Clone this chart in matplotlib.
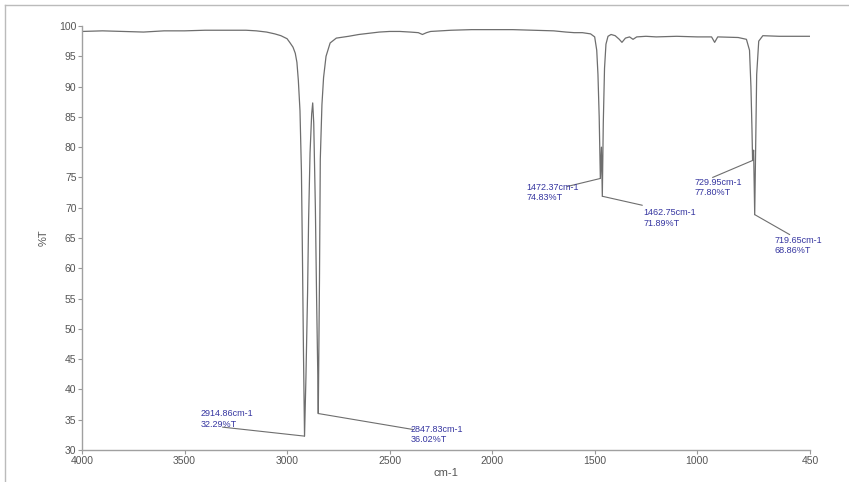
#!/usr/bin/env python
# FTIR transmittance spectrum with labelled peaks
import numpy as np
import matplotlib.pyplot as plt
from matplotlib.lines import Line2D

plt.rcParams['font.family'] = ['Liberation Sans', 'DejaVu Sans']

# spectrum (wavenumber cm-1, %T)
wavenumber = [4000, 3900, 3800, 3700, 3600, 3500, 3400, 3300, 3200, 3150,
              3100, 3060, 3030, 3000, 2985, 2971, 2960, 2952, 2945, 2937,
              2930, 2925, 2920, 2914.86, 2908, 2900, 2895, 2888, 2880, 2875,
              2870, 2862, 2856, 2850, 2847.83, 2842, 2838, 2830, 2822, 2810,
              2790, 2760, 2700, 2650, 2600, 2550, 2500, 2450, 2400, 2360,
              2340, 2320, 2300, 2200, 2100, 2000, 1900, 1800, 1700, 1640,
              1600, 1560, 1520, 1500, 1490, 1484, 1478, 1472.37, 1467, 1462.75,
              1458, 1452, 1445, 1435, 1420, 1400, 1380, 1367, 1350, 1330,
              1313, 1295, 1250, 1200, 1100, 1000, 930, 915, 900, 800,
              760, 745, 738, 733, 729.95, 725, 719.65, 715, 710, 700,
              680, 600, 500, 450]
transmittance = [99.1, 99.2, 99.1, 99.0, 99.2, 99.2, 99.3, 99.3, 99.3, 99.2,
                 99.0, 98.7, 98.4, 97.9, 97.2, 96.5, 95.5, 94.0, 91.0, 86.0,
                 76.0, 62.0, 46.0, 32.29, 42.0, 56.0, 68.0, 79.0, 85.5, 87.3,
                 84.0, 70.0, 55.0, 42.0, 36.02, 58.0, 78.0, 87.0, 91.5, 95.0,
                 97.2, 98.0, 98.3, 98.6, 98.8, 99.0, 99.1, 99.1, 99.0, 98.9,
                 98.6, 98.9, 99.1, 99.3, 99.4, 99.4, 99.4, 99.3, 99.2, 99.0,
                 98.9, 98.9, 98.7, 98.2, 96.0, 92.0, 85.0, 74.83, 80.0, 71.89,
                 84.0, 93.0, 97.0, 98.3, 98.6, 98.4, 97.8, 97.3, 98.0, 98.2,
                 97.8, 98.2, 98.3, 98.2, 98.3, 98.2, 98.2, 97.3, 98.2, 98.1,
                 97.8, 96.0, 90.0, 83.0, 77.80, 79.5, 68.86, 80.0, 92.0, 97.5,
                 98.4, 98.3, 98.3, 98.3]

# picked peaks
peak_wn = [2914.86, 2847.83, 1472.37, 1462.75, 729.95, 719.65]
peak_t = [32.29, 36.02, 74.83, 71.89, 77.80, 68.86]
# leader end and text offsets from each peak, in pixels
leader_off = [(-82, 9), (95, -16), (-33, -8), (40, -9), (-40, -17), (35, -20)]
text_off = [(-104, 17), (92, -21), (-74, -14), (41, -22), (-58, -27), (20, -31)]

fig = plt.figure(figsize=(8.49, 4.82), dpi=100)
ax = fig.add_axes([82/849, 32/482, 728/849, 424/482])

ax.plot(wavenumber, transmittance, color='#6e6e6e', lw=0.9)

for w, t, lo, to in zip(peak_wn, peak_t, leader_off, text_off):
    ax.annotate('', xy=(w, t), xytext=lo, textcoords='offset pixels',
                arrowprops=dict(arrowstyle='-', color='#6e6e6e', lw=0.8,
                                shrinkA=0, shrinkB=0))
    ax.annotate('%.2fcm-1\n%.2f%%T' % (w, t), xy=(w, t), xytext=to,
                textcoords='offset pixels', ha='left', va='center',
                fontsize=6.5, color='#3535a0', linespacing=1.25)

ax.set_xlim(4000, 450)
ax.set_ylim(30, 100)
ax.set_xticks([4000, 3500, 3000, 2500, 2000, 1500, 1000, 450])
ax.set_yticks(np.arange(30, 101, 5))
ax.tick_params(labelsize=7.5, labelcolor='#555555', color='#999999',
               length=3, width=0.8, pad=1)
for s in ['top', 'right']:
    ax.spines[s].set_visible(False)
for s in ['left', 'bottom']:
    ax.spines[s].set_color('#a0a0a0')
    ax.spines[s].set_linewidth(1.0)

ax.set_xlabel('cm-1', fontsize=8, color='#555555', labelpad=2)
ax.set_ylabel('%T', fontsize=8, color='#555555', labelpad=7.5)

# light frame round the picture
fig.add_artist(Line2D([5/849, 1], [1 - 5/482, 1 - 5/482], color='#bbbbbb', lw=1))
fig.add_artist(Line2D([5/849, 5/849], [0, 1 - 5/482], color='#bbbbbb', lw=1))

fig.savefig('out.png', dpi=100)
